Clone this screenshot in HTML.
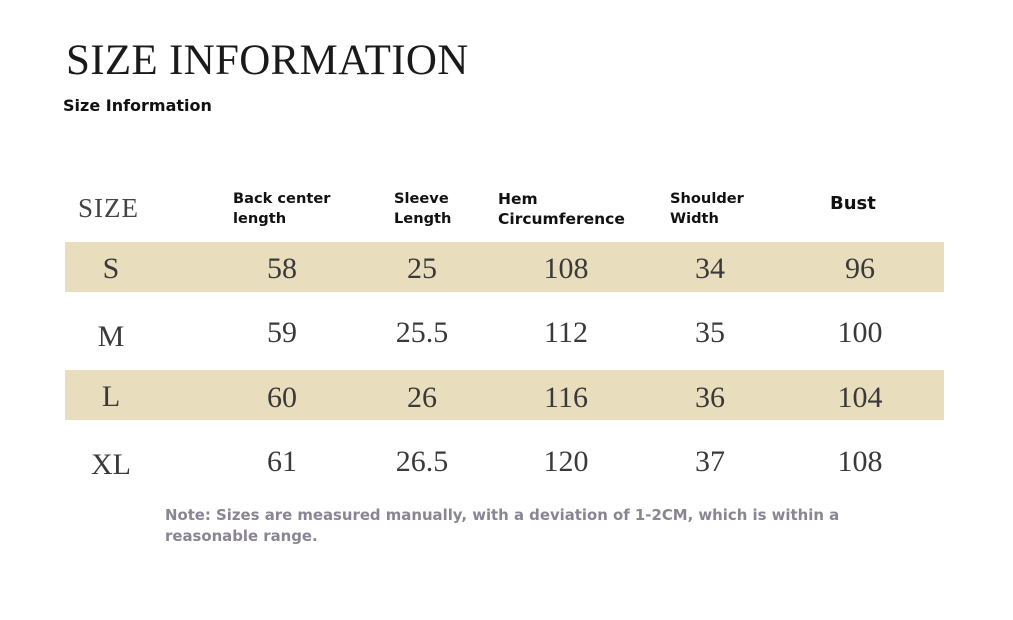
<!DOCTYPE html>
<html><head><style>
body{margin:0;width:1013px;height:620px;background:#fff;position:relative;overflow:hidden;font-family:"Liberation Serif",serif;}
.a{position:absolute;white-space:nowrap;}
.band{position:absolute;left:65px;width:879px;height:50px;background:#e8ddbc;}
.h{font-family:"DejaVu Sans","Liberation Sans",sans-serif;font-weight:bold;font-size:14.6px;line-height:20px;color:#111;}
.v{font-size:30px;color:#3a3a3a;transform:translateX(-50%);}
</style></head><body>
<div class="a" style="left:66px;top:36px;font-size:43px;color:#1a1a1a;letter-spacing:0.3px;">SIZE INFORMATION</div>
<div class="a h" style="left:63px;top:96px;font-size:16px;">Size Information</div>
<div class="a" style="left:78px;top:193px;font-size:27px;color:#444;letter-spacing:1px;">SIZE</div>
<div class="a h" style="left:233px;top:189px;">Back center<br>length</div>
<div class="a h" style="left:394px;top:189px;">Sleeve<br>Length</div>
<div class="a h" style="left:498px;top:189px;font-size:15.5px;">Hem<br>Circumference</div>
<div class="a h" style="left:670px;top:189px;">Shoulder<br>Width</div>
<div class="a h" style="left:830px;top:194px;font-size:18px;">Bust</div>
<div class="band" style="top:242px"></div>
<div class="band" style="top:370px"></div>
<div class="a v" style="left:111px;top:252px;">S</div>
<div class="a v" style="left:111px;top:320px;">M</div>
<div class="a v" style="left:111px;top:380px;">L</div>
<div class="a v" style="left:111px;top:448px;">XL</div>
<div class="a v" style="left:282px;top:252px;">58</div><div class="a v" style="left:422px;top:252px;">25</div><div class="a v" style="left:566px;top:252px;">108</div><div class="a v" style="left:710px;top:252px;">34</div><div class="a v" style="left:860px;top:252px;">96</div>
<div class="a v" style="left:282px;top:316px;">59</div><div class="a v" style="left:422px;top:316px;">25.5</div><div class="a v" style="left:566px;top:316px;">112</div><div class="a v" style="left:710px;top:316px;">35</div><div class="a v" style="left:860px;top:316px;">100</div>
<div class="a v" style="left:282px;top:381px;">60</div><div class="a v" style="left:422px;top:381px;">26</div><div class="a v" style="left:566px;top:381px;">116</div><div class="a v" style="left:710px;top:381px;">36</div><div class="a v" style="left:860px;top:381px;">104</div>
<div class="a v" style="left:282px;top:445px;">61</div><div class="a v" style="left:422px;top:445px;">26.5</div><div class="a v" style="left:566px;top:445px;">120</div><div class="a v" style="left:710px;top:445px;">37</div><div class="a v" style="left:860px;top:445px;">108</div>
<div class="a" style="left:165px;top:505px;font-family:'DejaVu Sans','Liberation Sans',sans-serif;font-weight:bold;font-size:14.9px;line-height:21px;color:#8a8592;">Note: Sizes are measured manually, with a deviation of 1-2CM, which is within a<br>reasonable range.</div>
</body></html>
